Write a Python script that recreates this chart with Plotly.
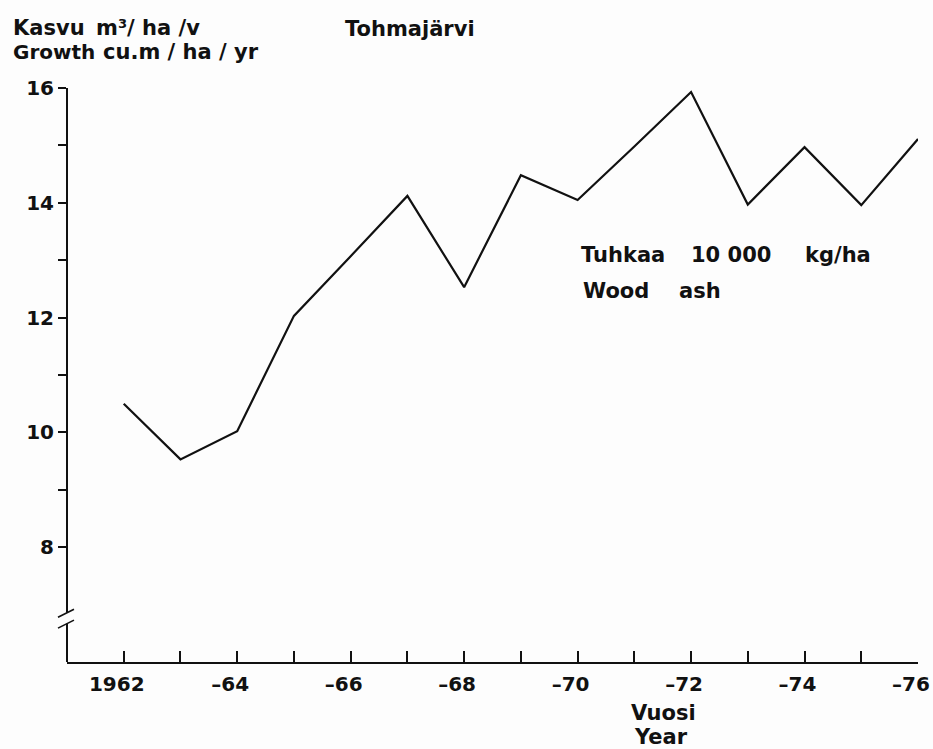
import plotly.graph_objects as go

# ---- data ----
years = [1962, 1963, 1964, 1965, 1966, 1967, 1968, 1969, 1970, 1971, 1972, 1973, 1974, 1975, 1976]
growth = [10.5, 9.53, 10.02, 12.03, 13.07, 14.12, 12.53, 14.48, 14.05, 14.98, 15.93, 13.97, 14.97, 13.96, 15.11]
x_tick_vals = [1962, 1964, 1966, 1968, 1970, 1972, 1974, 1976]
x_tick_text = ["1962", "–64", "–66", "–68", "–70", "–72", "–74", "–76"]
x_minor_vals = [1963, 1965, 1967, 1969, 1971, 1973, 1975]
y_tick_vals = [8, 10, 12, 14, 16]
y_tick_text = ["8", "10", "12", "14", "16"]
y_minor_vals = [9, 11, 13, 15]

INK = "#111111"
BG = "#fdfdfd"
FONT = dict(family="DejaVu Sans", size=20, color=INK, weight="bold")

W, H = 933, 749
ML, MR, MT, MB = 67, 15, 88, 87
PW, PH = W - ML - MR, H - MT - MB


def px(x):
    return (x - ML) / PW


def py(y):
    return (H - MB - y) / PH


fig = go.Figure()
fig.add_trace(go.Scatter(x=years, y=growth, mode="lines",
                         line=dict(color=INK, width=2.2), hoverinfo="skip"))

fig.update_xaxes(range=[1961, 1976], showgrid=False, zeroline=False, automargin=False,
                 showline=True, linecolor=INK, linewidth=2,
                 ticks="inside", ticklen=11, tickwidth=1.6, tickcolor=INK,
                 tickvals=x_tick_vals, ticktext=x_tick_text,
                 minor=dict(tickvals=x_minor_vals, ticks="inside", ticklen=11,
                            tickwidth=1.6, tickcolor=INK, showgrid=False),
                 ticklabelstandoff=3, ticklabelshift=-7,
                 tickfont=FONT)
fig.update_yaxes(range=[6, 16], showgrid=False, zeroline=False, automargin=False,
                 showline=False,
                 ticks="outside", ticklen=8, tickwidth=1.6, tickcolor=INK,
                 tickvals=y_tick_vals, ticktext=y_tick_text,
                 minor=dict(tickvals=y_minor_vals, ticks="outside", ticklen=8,
                            tickwidth=1.6, tickcolor=INK, showgrid=False),
                 ticklabelstandoff=0,
                 tickfont=FONT)

# y axis line with a break
shapes = [
    dict(type="line", xref="paper", yref="y", x0=0, x1=0, y0=16, y1=6.86,
         line=dict(color=INK, width=2)),
    dict(type="line", xref="paper", yref="y", x0=0, x1=0, y0=6.67, y1=6,
         line=dict(color=INK, width=2)),
    dict(type="line", xref="paper", yref="y", x0=-9 / PW, x1=7 / PW, y0=6.78, y1=6.92,
         line=dict(color=INK, width=1.6)),
    dict(type="line", xref="paper", yref="y", x0=-9 / PW, x1=7 / PW, y0=6.59, y1=6.73,
         line=dict(color=INK, width=1.6)),
]

texts = [
    ("Kasvu", 12, 28, 21),
    ("m³/ ha /v", 95, 28, 21),
    ("Growth", 12, 52, 20),
    ("cu.m / ha / yr", 102, 52, 21),
    ("Tohmajärvi", 344, 29, 21),
    ("Tuhkaa", 580, 255, 21),
    ("10 000", 690, 255, 21),
    ("kg/ha", 804, 255, 21),
    ("Wood", 582, 291, 21),
    ("ash", 678, 291, 21),
    ("Vuosi", 630, 713, 21),
    ("Year", 633, 737, 21),
]
annotations = [dict(text=t, x=px(x), y=py(y), xref="paper", yref="paper",
                    xanchor="left", yanchor="middle", showarrow=False, borderpad=0,
                    font=dict(family="DejaVu Sans", size=s, color=INK, weight="bold"))
               for t, x, y, s in texts]

fig.update_layout(width=W, height=H, margin=dict(l=ML, r=MR, t=MT, b=MB),
                  paper_bgcolor=BG, plot_bgcolor=BG, showlegend=False,
                  shapes=shapes, annotations=annotations)

fig.write_html("out.html")
